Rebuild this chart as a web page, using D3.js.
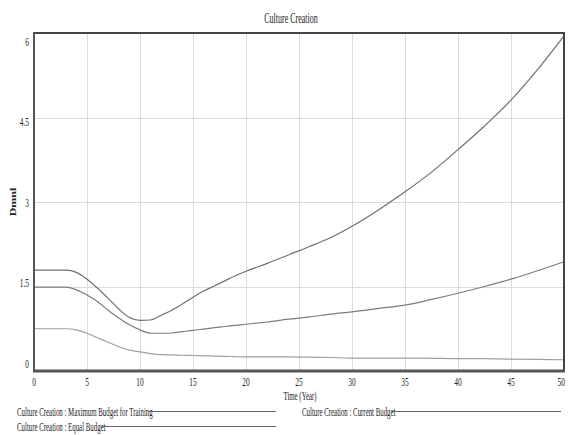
<!DOCTYPE html>
<html>
<head>
<meta charset="utf-8">
<script src="https://cdn.jsdelivr.net/npm/d3@7"></script>
<style>
  html, body { margin: 0; padding: 0; background: #fff; }
  svg { display: block; }
  text { font-family: "Liberation Serif", "DejaVu Serif", serif; fill: #222; }
</style>
</head>
<body>
<svg id="chart" width="570" height="435"></svg>
<script>
// Time axis (years) at which each series is sampled
const years = [0,3,4,5,6,7,8,9,10,11,12,13,14,15,16,17,18,19,20,22,24,26,28,30,32.5,35,37.5,40,42.5,45,47.5,50];

// Culture Creation under each budget scenario (Dmnl)
const maxBudget = [1.79,1.79,1.75,1.63,1.47,1.29,1.10,0.95,0.90,0.905,0.99,1.08,1.19,1.31,1.42,1.51,1.60,1.69,1.77,1.91,2.06,2.21,2.37,2.57,2.86,3.18,3.53,3.93,4.35,4.81,5.35,5.95];
const currentBudget = [1.49,1.49,1.44,1.35,1.23,1.08,0.94,0.82,0.73,0.67,0.67,0.675,0.70,0.72,0.745,0.77,0.79,0.81,0.83,0.87,0.92,0.96,1.01,1.05,1.11,1.17,1.27,1.38,1.50,1.63,1.78,1.94];
const equalBudget = [0.75,0.75,0.73,0.67,0.59,0.51,0.43,0.37,0.34,0.31,0.29,0.285,0.28,0.275,0.27,0.265,0.26,0.255,0.25,0.25,0.25,0.245,0.24,0.23,0.23,0.23,0.225,0.22,0.22,0.21,0.205,0.20];

const seriesNames = [
  "Culture Creation : Maximum Budget for Training",
  "Culture Creation : Current Budget",
  "Culture Creation : Equal Budget"
];

const xTicks = [0,5,10,15,20,25,30,35,40,45,50];
const yTicks = [0,1.5,3,4.5,6];
const yTickLabels = ["0","1.5","3","4.5","6"];

const chartTitle = "Culture Creation";
const xTitle = "Time (Year)";
const yTitle = "Dmnl";

// ---- layout ----
const svg = d3.select("#chart");
const plot = { left: 34, right: 564, top: 33, bottom: 371 };
const squeeze = 0.57; // narrow type face look

const x = d3.scaleLinear().domain([0, 50]).range([plot.left, plot.right]);
const y = d3.scaleLinear().domain([0, 6]).range([plot.bottom, plot.top]);
// value labels on the vertical axis sit slightly inside the frame
const yLabelPos = d3.scaleLinear().domain([0, 6]).range([363, 41]);

function condense(sel, k) {
  sel.each(function () {
    const len = this.getComputedTextLength();
    d3.select(this).attr("textLength", len * k).attr("lengthAdjust", "spacingAndGlyphs");
  });
  return sel;
}

// grid
const grid = svg.append("g").attr("stroke", "#dcdcdc").attr("stroke-width", 1);
grid.selectAll("line.v").data(xTicks.slice(1, -1)).join("line")
  .attr("x1", d => Math.round(x(d)) + 0.5).attr("x2", d => Math.round(x(d)) + 0.5)
  .attr("y1", plot.top).attr("y2", plot.bottom);
grid.selectAll("line.h").data(yTicks.slice(1, -1)).join("line")
  .attr("y1", d => Math.round(y(d)) + 0.5).attr("y2", d => Math.round(y(d)) + 0.5)
  .attr("x1", plot.left).attr("x2", plot.right);

// series lines
const line = d3.line().x((d, i) => x(years[i])).y(d => y(d)).curve(d3.curveMonotoneX);
const seriesData = [maxBudget, currentBudget, equalBudget];
const seriesColors = ["#707070", "#7c7c7c", "#a0a0a0"];
svg.append("g").selectAll("path").data(seriesData).join("path")
  .attr("d", line)
  .attr("fill", "none")
  .attr("stroke", (d, i) => seriesColors[i])
  .attr("stroke-width", 1.2);

// frame
svg.append("line").attr("x1", plot.left).attr("x2", plot.right + 1)
  .attr("y1", plot.top).attr("y2", plot.top).attr("stroke", "#444").attr("stroke-width", 2);
svg.append("line").attr("x1", plot.right).attr("x2", plot.right)
  .attr("y1", plot.top).attr("y2", plot.bottom).attr("stroke", "#444").attr("stroke-width", 2);
svg.append("line").attr("x1", plot.left).attr("x2", plot.left)
  .attr("y1", plot.top - 1).attr("y2", plot.bottom + 1).attr("stroke", "#555").attr("stroke-width", 2);
svg.append("line").attr("x1", plot.left - 1).attr("x2", plot.right + 1)
  .attr("y1", plot.bottom).attr("y2", plot.bottom).attr("stroke", "#555").attr("stroke-width", 3);

// title
condense(svg.append("text").attr("x", 291).attr("y", 23).attr("text-anchor", "middle")
  .attr("font-size", 14).text(chartTitle), squeeze);

// x tick labels (the last one is kept inside the page edge)
condense(svg.append("g").selectAll("text").data(xTicks).join("text")
  .attr("x", (d, i) => i === xTicks.length - 1 ? x(d) + 1 : x(d))
  .attr("y", 386)
  .attr("text-anchor", (d, i) => i === xTicks.length - 1 ? "end" : "middle")
  .attr("font-size", 13).text(d => d), squeeze);

// y tick labels
condense(svg.append("g").selectAll("text").data(yTicks).join("text")
  .attr("x", 29).attr("y", d => yLabelPos(d) + 4.5).attr("text-anchor", "end")
  .attr("font-size", 13).text((d, i) => yTickLabels[i]), squeeze);

// axis titles
condense(svg.append("text").attr("x", 300).attr("y", 400).attr("text-anchor", "middle")
  .attr("font-size", 12).text(xTitle), squeeze);
svg.append("text")
  .attr("transform", "translate(16,202) rotate(-90) scale(1,0.6)")
  .attr("text-anchor", "middle").attr("font-size", 12).attr("font-weight", "bold")
  .attr("fill", "#333").text(yTitle);

// legend
const legendItems = [
  { name: seriesNames[0], tx: 17, ty: 416, lx2: 276 },
  { name: seriesNames[1], tx: 302, ty: 416, lx2: 561 },
  { name: seriesNames[2], tx: 17, ty: 431, lx2: 276 }
];
const lg = svg.append("g");
legendItems.forEach(item => {
  const t = lg.append("text").attr("x", item.tx).attr("y", item.ty)
    .attr("font-size", 12).text(item.name);
  condense(t, squeeze);
  const w = +t.attr("textLength");
  lg.append("line")
    .attr("x1", item.tx + w - 4).attr("x2", item.lx2)
    .attr("y1", item.ty - 4.5).attr("y2", item.ty - 4.5)
    .attr("stroke", "#666").attr("stroke-width", 1);
});
</script>
</body>
</html>
